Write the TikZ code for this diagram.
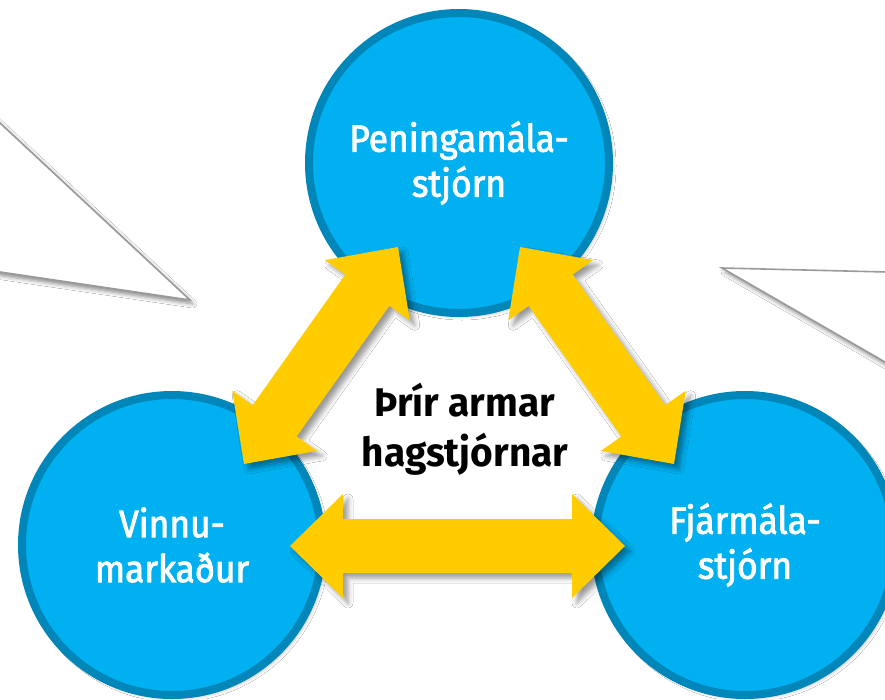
\documentclass[tikz,border=0pt]{standalone}
\usepackage{fontspec}
\setmainfont{Fira Sans}
\newfontfamily\circfont{Fira Sans}[FakeStretch=0.93, FakeBold=2.2]
\newfontfamily\midfont{Fira Sans}[FakeStretch=0.97]
\usetikzlibrary{calc,shadows.blur}
\definecolor{circfill}{HTML}{00B0F0}
\definecolor{circborder}{HTML}{0086B8}
\definecolor{arrowyellow}{HTML}{FFCC00}
\definecolor{calloutgray}{HTML}{9A9A9A}
\newcommand{\dblarrow}[2]{%
  \fill[bigarrow] (#1)
   -- ($(#1)!53pt!(#2)!52pt!90:(#2)$)
   -- ($(#1)!53pt!(#2)!27pt!90:(#2)$)
   -- ($(#2)!53pt!(#1)!27pt!-90:(#1)$)
   -- ($(#2)!53pt!(#1)!52pt!-90:(#1)$)
   -- (#2)
   -- ($(#2)!53pt!(#1)!52pt!90:(#1)$)
   -- ($(#2)!53pt!(#1)!27pt!90:(#1)$)
   -- ($(#1)!53pt!(#2)!27pt!-90:(#2)$)
   -- ($(#1)!53pt!(#2)!52pt!-90:(#2)$)
   -- cycle;}
\begin{document}
\begin{tikzpicture}[x=1pt,y=-1pt,
  hub/.style={circle, draw=circborder, line width=8pt, fill=circfill,
    minimum size=300pt, inner sep=0pt, text=white, align=center,
    font=\circfont\fontsize{38}{45}\selectfont,
    blur shadow={shadow xshift=3pt, shadow yshift=-3pt, shadow blur radius=4pt, shadow opacity=30}},
  bigarrow/.style={fill=arrowyellow,
    blur shadow={shadow xshift=5pt, shadow yshift=-5pt, shadow blur radius=5pt, shadow opacity=40}},
  callout/.style={draw=calloutgray, line width=1.6pt, line join=miter, fill=white,
    blur shadow={shadow xshift=3pt, shadow yshift=-4pt, shadow blur radius=4pt, shadow opacity=45}},
  title/.style={align=center, text=black, font=\midfont\bfseries\fontsize{40}{50}\selectfont}]
\useasboundingbox (0,0) rectangle (885,699);
\fill[white] (0,0) rectangle (885,699);
% callout tails
\coordinate (ltip) at (190,300);
\coordinate (rtip) at (722,268);
\path[callout] (-10,113.7) -- (ltip) -- (-10,270.5);
\path[callout] (895,272.2) -- (rtip) -- (895,367.8);
% circles
\node[hub] (mon) at (459,163) {Peningamála-\\stjórn};
\node[hub] (lab) at (172,545) {Vinnu-\\markaður};
\node[hub] (fis) at (745,545) {Fjármála-\\stjórn};
% arrow end points
\coordinate (a1) at ($(mon)+(-61,84)$);
\coordinate (a2) at ($(lab)+(72,-81)$);
\coordinate (b1) at ($(mon)+(61,84)$);
\coordinate (b2) at ($(fis)+(-71,-81)$);
\coordinate (c1) at ($(lab)+(118,1)$);
\coordinate (c2) at ($(fis)+(-120,1)$);
\dblarrow{a1}{a2}
\dblarrow{b1}{b2}
\dblarrow{c1}{c2}
\node[title] (ttl) at (465,429) {Þrír armar\\hagstjórnar};
\end{tikzpicture}
\end{document}
